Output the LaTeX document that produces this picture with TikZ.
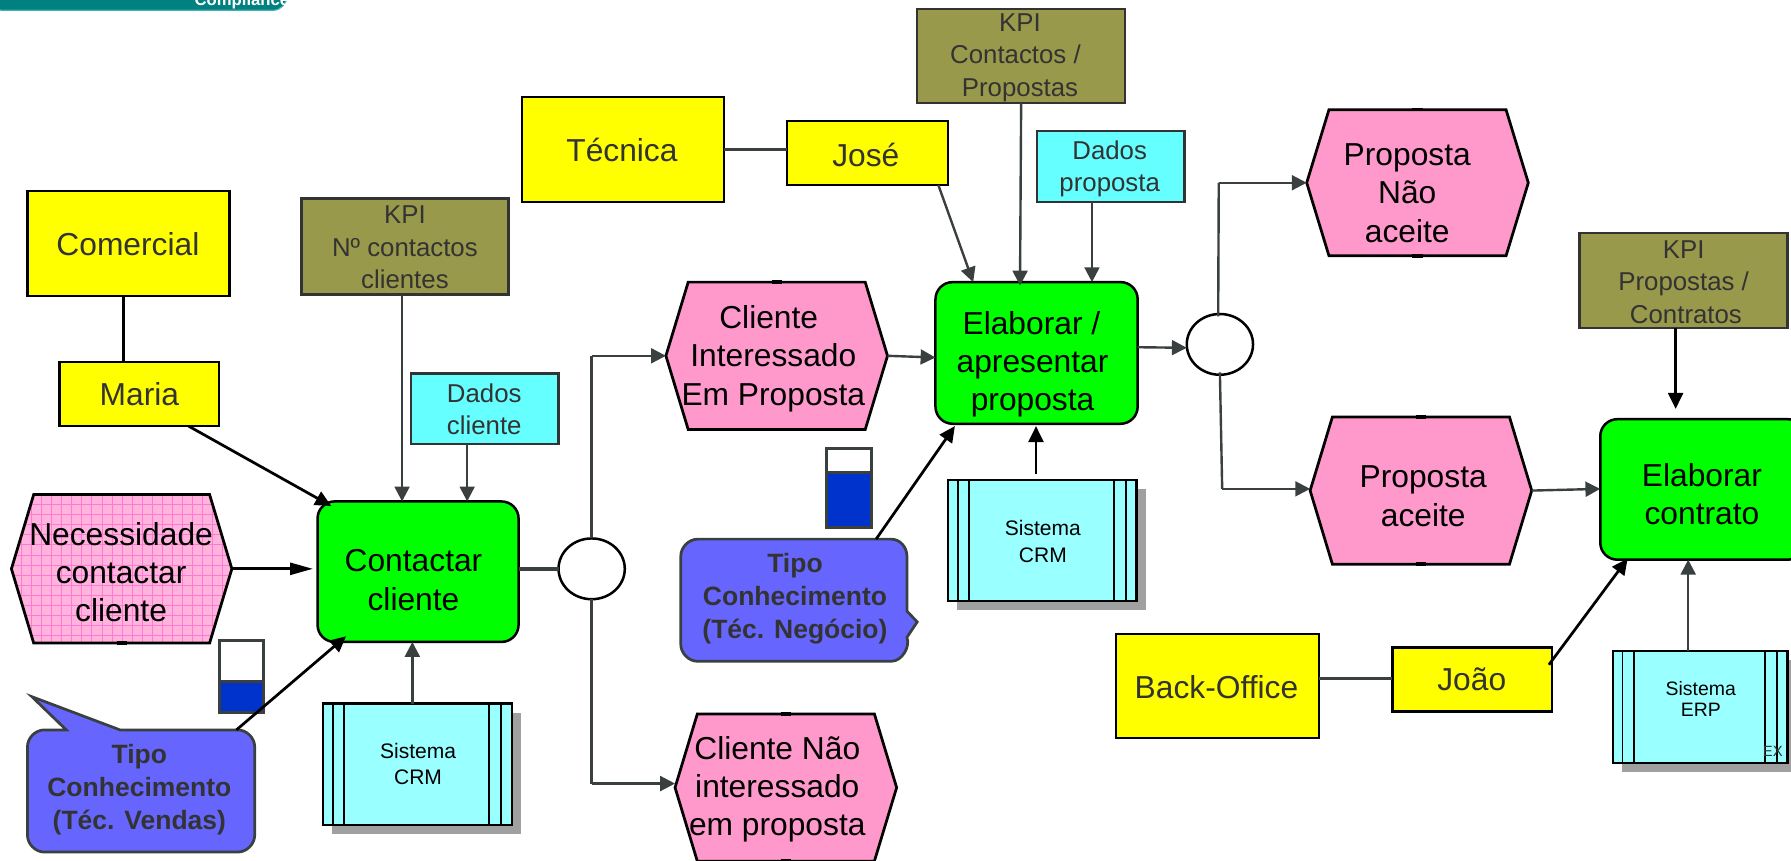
\documentclass[tikz,border=0pt]{standalone}
\usepackage{fontspec}
\setmainfont{Liberation Sans}
\usetikzlibrary{arrows.meta,calc,shapes.geometric}
\definecolor{pureyellow}{RGB}{255,255,0}
\definecolor{puregreen}{RGB}{0,255,0}
\definecolor{hexpink}{HTML}{FF99CC}
\definecolor{lightpink}{HTML}{FFB3DD}
\definecolor{gridpink}{HTML}{FF78D2}
\definecolor{kpicol}{HTML}{99994C}
\definecolor{dadoscol}{HTML}{66FFFF}
\definecolor{syscol}{HTML}{99FFFF}
\definecolor{tipocol}{HTML}{6666FF}
\definecolor{gaugeblue}{HTML}{0033CC}
\definecolor{darkline}{HTML}{3A4040}
\definecolor{darktext}{HTML}{333333}
\definecolor{shadowgray}{HTML}{A0A0A0}
\definecolor{tealbar}{HTML}{008080}
\definecolor{tealedge}{HTML}{40B0B0}
\tikzset{
  base/.style={rectangle,inner sep=0pt,outer sep=0pt},
  yellowbox/.style={base,draw=black,line width=1pt,fill=pureyellow},
  kpibox/.style={base,draw=darktext,line width=1.1pt,fill=kpicol},
  dadosbox/.style={base,draw=darktext,line width=1pt,fill=dadoscol},
  funcbox/.style={base,draw=black,line width=1.1pt,fill=puregreen,rounded corners=7.5pt},
  sysbox/.style={base,draw=black,line width=1pt,fill=syscol},
  gaugebox/.style={base,draw=darkline,line width=1.3pt,fill=white},
  gaugefill/.style={base,draw=darkline,line width=1.3pt,fill=gaugeblue},
  joint/.style={ellipse,draw=black,line width=1.1pt,fill=white,inner sep=0pt,outer sep=0pt,minimum width=29pt,minimum height=26.6pt},
  maintxt/.style={align=center,inner sep=0pt,text=black,font=\fontsize{13.9}{16.8}\selectfont},
  graytxt/.style={align=center,inner sep=0pt,text=darktext,font=\fontsize{13.9}{16.8}\selectfont},
  smalltxt/.style={align=center,inner sep=0pt,text=darktext,font=\fontsize{11.3}{14.1}\selectfont},
  tipotxt/.style={align=center,inner sep=0pt,text=darktext,font=\fontsize{11.6}{14.4}\selectfont\bfseries},
  systxt/.style={align=center,inner sep=0pt,text=black,font=\fontsize{9.2}{11.5}\selectfont},
  erptxt/.style={align=center,inner sep=0pt,text=black,font=\fontsize{8.5}{9}\selectfont},
  grayconn/.style={draw=darkline,line width=1.05pt},
  grayarrow/.style={grayconn,-{Triangle[length=6.5pt,width=6.5pt]}},
  blackconn/.style={draw=black,line width=1.2pt},
  blackarrow/.style={blackconn,-{Triangle[length=7pt,width=6.5pt]}},
  slimarrow/.style={blackconn,-{Triangle[length=10pt,width=5.2pt]}},
  hexline/.style={draw=black,line width=1.2pt},
  hextick/.style={draw=black,line width=1.6pt},
  tipoline/.style={draw=darkline,line width=1.2pt,fill=tipocol}
}
\newcommand{\boxat}[6]{%
  \pgfmathsetmacro\bcx{(#3+#5)/2}%
  \pgfmathsetmacro\bcy{(#4+#6)/2}%
  \pgfmathsetmacro\bbw{(#5-#3)*0.5}%
  \pgfmathsetmacro\bbh{(#6-#4)*0.5}%
  \node[#1,minimum width=\bbw pt,minimum height=\bbh pt] (#2) at (\bcx,\bcy) {};}
\newcommand{\hexat}[6][hexpink]{%
  \boxat{base}{#2}{#3}{#4}{#5}{#6}%
  \path[hexline,fill=#1] (#2.west) -- ($(#2.north west)+(19.5,0)$) -- ($(#2.north east)+(-19.5,0)$) -- (#2.east) -- ($(#2.south east)+(-19.5,0)$) -- ($(#2.south west)+(19.5,0)$) -- cycle;
  \draw[hextick] ($(#2.north)+(-4.5,0)$) -- ($(#2.north)+(4.5,0)$);
  \draw[hextick] ($(#2.south)+(-4.5,0)$) -- ($(#2.south)+(4.5,0)$);}
\newcommand{\sysat}[5]{%
  \fill[shadowgray] (#2+8,#3+8) rectangle (#4+8,#5+8);
  \boxat{sysbox}{#1}{#2}{#3}{#4}{#5}%
  \foreach \ox in {8.5,18.5}{\draw[black,line width=.8pt] ($(#1.north west)+(\ox,0)$) -- ($(#1.south west)+(\ox,0)$);}
  \foreach \ox in {9.5,20}{\draw[black,line width=.8pt] ($(#1.north east)+(-\ox,0)$) -- ($(#1.south east)+(-\ox,0)$);}}
\begin{document}
\begin{tikzpicture}[x=0.5pt,y=-0.5pt]
\useasboundingbox (0,0) rectangle (1568,753);
\clip (0,0) rectangle (1568,753);
% banner
\draw[fill=tealbar,draw=tealedge,line width=.5pt,rounded corners=6pt] (-10,-30) rectangle (251,9);
\node[anchor=base west,inner sep=0pt,text=white,font=\fontsize{7.3}{8}\selectfont\bfseries] (bannertxt) at (170,4.5) {Compliance};

% shapes
\boxat{yellowbox}{comercial}{24}{167}{201}{259}
\node[graytxt] (comercialt) at (112,213.5) {Comercial};
\boxat{yellowbox}{maria}{52}{317}{192}{373}
\node[graytxt] (mariat) at (122,345) {Maria};
\boxat{kpibox}{kpia}{264}{174}{445}{258}
\node[smalltxt] (kpiat) at (354.5,216.5) {KPI\\Nº contactos\\clientes};
\boxat{dadosbox}{dadosa}{360}{327}{489}{389}
\node[smalltxt] (dadosat) at (424,358.5) {Dados\\cliente};

% pattern hexagon
\boxat{base}{necess}{10}{433}{203}{563}
\begin{scope}
\clip (necess.west) -- ($(necess.north west)+(19.5,0)$) -- ($(necess.north east)+(-19.5,0)$) -- (necess.east) -- ($(necess.south east)+(-19.5,0)$) -- ($(necess.south west)+(19.5,0)$) -- cycle;
\fill[lightpink] (necess.south west) rectangle (necess.north east);
\foreach \gx in {1,...,22}{\draw[gridpink,line width=.3pt] (10+\gx*8.8,433) -- (10+\gx*8.8,563);}
\foreach \gy in {1,...,14}{\draw[gridpink,line width=.3pt] (10,433+\gy*8.8) -- (203,433+\gy*8.8);}
\end{scope}
\path[hexline] (necess.west) -- ($(necess.north west)+(19.5,0)$) -- ($(necess.north east)+(-19.5,0)$) -- (necess.east) -- ($(necess.south east)+(-19.5,0)$) -- ($(necess.south west)+(19.5,0)$) -- cycle;
\draw[hextick] ($(necess.north)+(-4.5,0)$) -- ($(necess.north)+(4.5,0)$);
\draw[hextick] ($(necess.south)+(-4.5,0)$) -- ($(necess.south)+(4.5,0)$);
\node[maintxt] (necesst) at (106,501) {Necessidade\\contactar\\cliente};

\boxat{funcbox}{contactar}{278}{439}{454}{562}
\node[maintxt] (contactart) at (362,508) {Contactar\\cliente};
\sysat{crma}{283}{616}{448}{722}
\node[systxt] (crmat) at (366,669) {Sistema\\CRM};
\boxat{gaugebox}{gaugea}{192}{561}{231}{624}
\boxat{gaugefill}{gaugeafill}{192}{597}{231}{624}
\path[tipoline] (58,639) -- (28,610) -- (105,639) -- (208,639) .. controls (216,639) and (223,646) .. (223,654) -- (223,731) .. controls (223,739) and (216,746) .. (208,746) -- (39,746) .. controls (31,746) and (24,739) .. (24,731) -- (24,654) .. controls (24,646) and (31,639) .. (39,639) -- cycle;
\coordinate (tipoa) at (207,639);
\node[tipotxt] (tipoat) at (122,691) {Tipo\\Conhecimento\\(Téc. Vendas)};

\node[joint] (ja) at (518,498) {};
\hexat{interessado}{583}{247}{777}{376}
\node[maintxt] (interessadot) at (677,314) {Cliente\hspace*{4pt}\\Interessado\\Em Proposta};
\hexat{naoint}{591}{625}{785}{754}
\node[maintxt] (naointt) at (680.5,691) {Cliente Não\\interessado\\em proposta};

\boxat{funcbox}{elaborar}{819}{247}{996}{371}
\node[maintxt] (elaborart) at (904,319) {Elaborar /\hspace*{1pt}\\apresentar\\proposta};
\boxat{yellowbox}{tecnica}{457}{85}{634}{177}
\node[graytxt] (tecnicat) at (544.5,131) {Técnica};
\boxat{yellowbox}{jose}{689}{106}{830}{162}
\node[graytxt] (joset) at (758,136) {José};
\boxat{kpibox}{kpib}{803}{8}{985}{90}
\node[smalltxt] (kpibt) at (893,50.5) {KPI\\\hspace*{-4pt}Contactos /\hspace*{4pt}\\Propostas};
\boxat{dadosbox}{dadosb}{908}{115}{1037}{177}
\node[smalltxt] (dadosbt) at (971.5,148) {Dados\\proposta};
\sysat{crmb}{830}{420}{995}{526}
\node[systxt] (crmbt) at (913,474) {Sistema\\CRM};
\boxat{gaugebox}{gaugeb}{724}{393}{763}{462}
\boxat{gaugefill}{gaugebfill}{724}{414}{763}{462}
\path[tipoline] (794,535) -- (803,544.5) -- (794,558) .. controls (797,566) and (790,579) .. (780,579) -- (611,579) .. controls (603,579) and (596,572) .. (596,564) -- (596,487) .. controls (596,479) and (603,472) .. (611,472) -- (780,472) .. controls (788,472) and (794,479) .. (794,487) -- cycle;
\coordinate (tipob) at (767,472);
\node[tipotxt] (tipobt) at (696,524) {Tipo\\Conhecimento\\(Téc. Negócio)};

\node[joint] (jb) at (1068,301.5) {};
\hexat{naoaceite}{1144}{96}{1338}{224}
\node[maintxt] (naoaceitet) at (1232,169) {Proposta\\Não\\aceite};
\hexat{aceite}{1147}{365}{1341}{494}
\node[maintxt] (aceitet) at (1246,434.5) {Proposta\\aceite};
\boxat{kpibox}{kpic}{1383}{204}{1565}{287}
\node[smalltxt] (kpict) at (1474,247) {KPI\\Propostas /\\\hspace*{2pt}Contratos};
\boxat{funcbox}{contrato}{1401}{367}{1580}{490}
\node[maintxt] (contratot) at (1490,432.5) {Elaborar\\contrato};
\boxat{yellowbox}{backoff}{977}{555}{1155}{646}
\node[graytxt] (backofft) at (1065,602) {Back-Office};
\boxat{yellowbox}{joao}{1219}{567}{1359}{623}
\node[graytxt] (joaot) at (1288.5,595) {João};
\sysat{erp}{1412}{570}{1565}{668}
\node[erptxt] (erpt) at (1489,612) {Sistema\\ERP};
\node[inner sep=0pt,text=darktext,font=\fontsize{6.5}{7}\selectfont] (ext) at (1552,658) {EX};

% connectors
\draw[blackconn] ($(comercial.south)+(-4.5,0)$) -- ($(maria.north)+(-14,0)$);
\draw[blackarrow] ($(maria.south)+(43,0)$) -- ($(contactar.north west)+(12,4)$);
\draw[grayarrow] ($(kpia.south)+(-2.5,0)$) -- ($(contactar.north)+(-14,0)$);
\draw[grayarrow] ($(dadosa.south)+(-15.5,0)$) -- ($(contactar.north)+(43,0)$);
\draw[slimarrow] (necess.east) -- ($(contactar.west)+(-4,-2.5)$);
\draw[blackarrow] (tipoa) -- ($(contactar.south west)+(25,-5)$);
\draw[grayarrow] ($(crma.north)+(-4.5,0)$) -- ($(contactar.south)+(-5,0)$);
\draw[darkline,line width=1.9pt] ($(contactar.east)+(0,-2.5)$) -- (ja.west);
\draw[grayconn] (ja.north) -- ($(interessado.west)+(-65,0)$);
\draw[grayarrow] ($(interessado.west)+(-65,0)$) -- (interessado.west);
\draw[grayconn] (ja.south) -- ($(naoint.west)+(-73,-3.5)$);
\draw[grayarrow] ($(naoint.west)+(-73,-3.5)$) -- ($(naoint.west)+(0,-3.5)$);
\draw[grayarrow] (interessado.east) -- ($(elaborar.west)+(0,4)$);
\draw[grayconn] (tecnica.east) -- (tecnica.east -| jose.west);
\draw[grayarrow] ($(jose.south)+(62,0)$) -- ($(elaborar.north)+(-55.5,0)$);
\draw[grayarrow] (kpib.south) -- ($(elaborar.north)+(-14.5,3)$);
\draw[grayarrow] ($(dadosb.south)+(-16.5,0)$) -- ($(elaborar.north)+(48.5,0)$);
\draw[blackarrow] (tipob) -- ($(elaborar.south west)+(17,2)$);
\draw[blackarrow] ($(crmb.north)+(-5.5,-5)$) -- ($(elaborar.south)+(-0.5,2)$);
\draw[grayarrow] ($(elaborar.east)+(0,-5)$) -- ($(jb.west)+(0,3)$);
\draw[grayconn] ($(jb.north)+(-1.5,2)$) -- ($(naoaceite.west)+(-77,0)$);
\draw[grayarrow] ($(naoaceite.west)+(-77,0)$) -- (naoaceite.west);
\draw[grayconn] ($(jb.south)+(0,-2)$) -- ($(aceite.west)+(-77,-1.5)$);
\draw[grayarrow] ($(aceite.west)+(-77,-1.5)$) -- ($(aceite.west)+(0,-1.5)$);
\draw[grayarrow] (aceite.east) -- ($(contrato.west)+(0,-0.5)$);
\draw[blackarrow] ($(kpic.south)+(-7,0)$) -- ($(kpic.south)+(-7,71)$);
\draw[grayconn] ($(backoff.east)+(0,-6.5)$) -- ($(joao.west)+(0,-1)$);
\draw[blackarrow] ($(joao.east)+(-3,-13)$) -- ($(contrato.south west)+(24,-1)$);
\draw[grayarrow] ($(erp.north)+(-10.5,0)$) -- ($(contrato.south)+(-12.5,0)$);
\end{tikzpicture}
\end{document}
